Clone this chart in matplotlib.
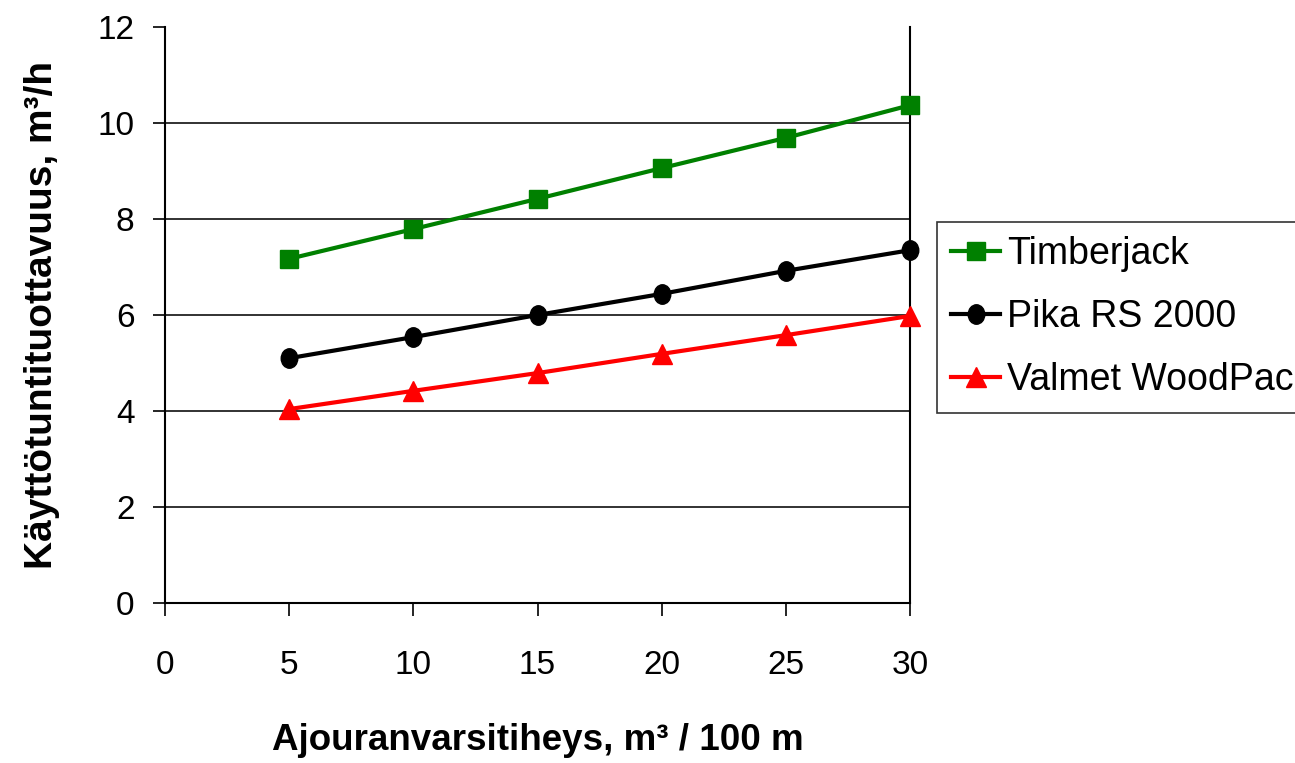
import matplotlib
matplotlib.use("Agg")
import matplotlib.pyplot as plt
from matplotlib.path import Path
from matplotlib.transforms import Affine2D

plt.rcParams['font.family'] = ['Liberation Sans', 'DejaVu Sans']

x = [5, 10, 15, 20, 25, 30]
timberjack = [7.17, 7.79, 8.42, 9.06, 9.69, 10.37]
pika = [5.10, 5.54, 6.00, 6.44, 6.92, 7.35]
valmet = [4.04, 4.42, 4.79, 5.19, 5.58, 5.98]
series_names = ["Timberjack", "Pika RS 2000", "Valmet WoodPac"]
xticks = [0, 5, 10, 15, 20, 25, 30]
yticks = [0, 2, 4, 6, 8, 10, 12]

fig = plt.figure(figsize=(12.95, 7.63), dpi=100)
ax = fig.add_axes([165/1295, 1-603/763, (910-165)/1295, (603-27)/763])

ellipse = Path.unit_circle().transformed(Affine2D().scale(0.85, 1.0))

ax.plot(x, timberjack, color='#008000', lw=3, marker='s', ms=13, mec='#008000', mfc='#008000', label=series_names[0], clip_on=False, zorder=5)
ax.plot(x, pika, color='black', lw=3, marker=ellipse, ms=14, mec='black', mfc='black', label=series_names[1], clip_on=False, zorder=5)
ax.plot(x, valmet, color='#ff0000', lw=3, marker='^', ms=14, mec='#ff0000', mfc='#ff0000', label=series_names[2], clip_on=False, zorder=5)

ax.set_xlim(0, 30)
ax.set_ylim(0, 12)
ax.set_xticks(xticks)
ax.set_yticks(yticks)
for yv in yticks[1:-1]:
    ax.axhline(yv, color='#222222', lw=1.3, zorder=1)

ax.spines['top'].set_visible(False)
for s in ['left', 'right', 'bottom']:
    ax.spines[s].set_linewidth(1.5)
    ax.spines[s].set_color('black')

ax.tick_params(axis='y', direction='out', length=9, width=1.2, pad=13, labelsize=24)
ax.tick_params(axis='x', direction='out', length=9, width=1.2, pad=25, labelsize=24)

ax.set_xlabel("Ajouranvarsitiheys, m³ / 100 m", fontsize=26.5, fontweight='bold')
ax.set_ylabel("Käyttötuntituottavuus, m³/h", fontsize=28, fontweight='bold')
ax.xaxis.set_label_coords(0.50, -0.208)
ax.yaxis.set_label_coords(-0.141, 0.5)

leg = fig.legend(loc='upper left', bbox_to_anchor=(937/1295, 1-222/763), fontsize=27,
                 frameon=True, fancybox=False, edgecolor='black', borderpad=0.38,
                 handlelength=1.3, handletextpad=0.2, labelspacing=0.72, borderaxespad=0)
leg.get_frame().set_linewidth(1.2)

fig.savefig("out.png", dpi=100)
